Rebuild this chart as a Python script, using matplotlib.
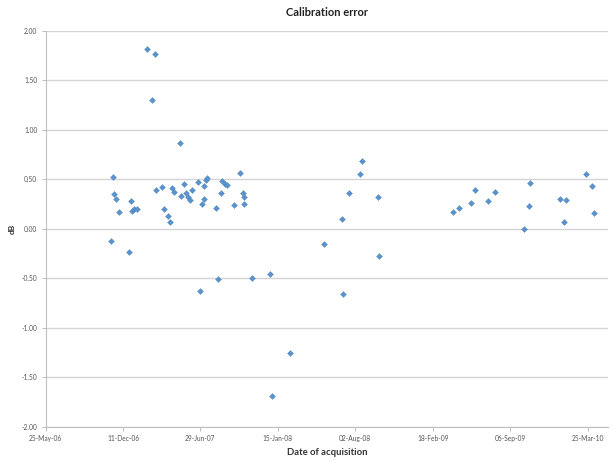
import matplotlib
matplotlib.use("Agg")
import matplotlib.pyplot as plt
import matplotlib.dates as mdates
import numpy as np
from datetime import datetime

plt.rcParams['font.family'] = ['Lato', 'DejaVu Sans']

title = "Calibration error"
x_label = "Date of acquisition"
y_label = "dB"

acq_dates = [
    "2006-11-10", "2006-11-15", "2006-11-19", "2006-11-24", "2006-12-01",
    "2006-12-27", "2006-12-31", "2007-01-04", "2007-01-09", "2007-01-15",
    "2007-02-10", "2007-02-24", "2007-03-03", "2007-03-07", "2007-03-23",
    "2007-03-28", "2007-04-06", "2007-04-12", "2007-04-17", "2007-04-22",
    "2007-05-07", "2007-05-11", "2007-05-18", "2007-05-22", "2007-05-27",
    "2007-06-02", "2007-06-07", "2007-06-23", "2007-06-28", "2007-07-04",
    "2007-07-08", "2007-07-09", "2007-07-13", "2007-07-17", "2007-08-08",
    "2007-08-14", "2007-08-20", "2007-08-25", "2007-08-31", "2007-09-06",
    "2007-09-24", "2007-10-09", "2007-10-16", "2007-10-19", "2007-10-20",
    "2007-11-09", "2007-12-25", "2007-12-31", "2008-02-16", "2008-05-12",
    "2008-06-28", "2008-07-02", "2008-07-18", "2008-08-13", "2008-08-19",
    "2008-09-29", "2008-10-03", "2009-04-12", "2009-04-27", "2009-05-28",
    "2009-06-08", "2009-07-12", "2009-07-29", "2009-10-13", "2009-10-24",
    "2009-10-28", "2010-01-14", "2010-01-24", "2010-01-29", "2010-03-22",
    "2010-04-06", "2010-04-12",
]
errors_db = [
    -0.12, 0.53, 0.35, 0.30, 0.17,
    -0.23, 0.28, 0.18, 0.20, 0.20,
    1.815, 1.30, 1.77, 0.39, 0.42,
    0.20, 0.13, 0.07, 0.41, 0.37,
    0.87, 0.33, 0.45, 0.36, 0.32,
    0.29, 0.39, 0.47, -0.63, 0.25,
    0.30, 0.43, 0.49, 0.51, 0.215,
    -0.51, 0.36, 0.48, 0.45, 0.44,
    0.24, 0.57, 0.36, 0.32, 0.25,
    -0.50, -0.455, -1.69, -1.25, -0.155,
    0.10, -0.66, 0.36, 0.56, 0.69,
    0.32, -0.27, 0.17, 0.21, 0.26,
    0.39, 0.28, 0.37, 0.00, 0.23,
    0.46, 0.30, 0.07, 0.29, 0.56,
    0.43, 0.165,
]

x_tick_dates = ["2006-05-25", "2006-12-11", "2007-06-29", "2008-01-15",
                "2008-08-02", "2009-02-18", "2009-09-06", "2010-03-25"]
x_max_date = "2010-05-17"
y_ticks = [2.0, 1.5, 1.0, 0.5, 0.0, -0.5, -1.0, -1.5, -2.0]

to_num = lambda s: mdates.date2num(datetime.strptime(s, "%Y-%m-%d"))
xs = [to_num(d) for d in acq_dates]
xt = [to_num(d) for d in x_tick_dates]

fig = plt.figure(figsize=(6.12, 4.61), dpi=100)
ax = fig.add_axes([0.0745, 0.0738, 0.919, 0.859])

ax.scatter(xs, errors_db, marker='D', s=9, color='#5b93cc', edgecolors='#4f86bf',
           linewidths=0.3, zorder=3)

ax.set_xlim(xt[0], to_num(x_max_date))
ax.set_ylim(-2.0, 2.0)
ax.set_yticks(y_ticks)
ax.set_yticklabels([f"{v:.2f}" for v in y_ticks])
ax.set_xticks(xt)
ax.xaxis.set_major_formatter(mdates.DateFormatter("%d-%b-%y"))

ax.yaxis.grid(True, color='#d4d4d4', linewidth=1.0, zorder=0)
ax.xaxis.grid(False)
ax.set_axisbelow(True)
for s in ['top', 'right']:
    ax.spines[s].set_visible(False)
for s in ['left', 'bottom']:
    ax.spines[s].set_color('#bfbfbf')
    ax.spines[s].set_linewidth(0.8)
ax.tick_params(axis='both', which='major', labelsize=4.8, colors='#bfbfbf',
               labelcolor='#555555', length=3, width=0.7, direction='out', pad=3)

ax.set_title(title, fontsize=8, fontweight='bold', color='#222222', pad=11)
ax.set_xlabel(x_label, fontsize=6.8, fontweight='bold', color='#333333', labelpad=4)
ax.set_ylabel(y_label, fontsize=6, fontweight='bold', color='#333333', labelpad=4)

fig.savefig("out.png", dpi=100, facecolor='white')
